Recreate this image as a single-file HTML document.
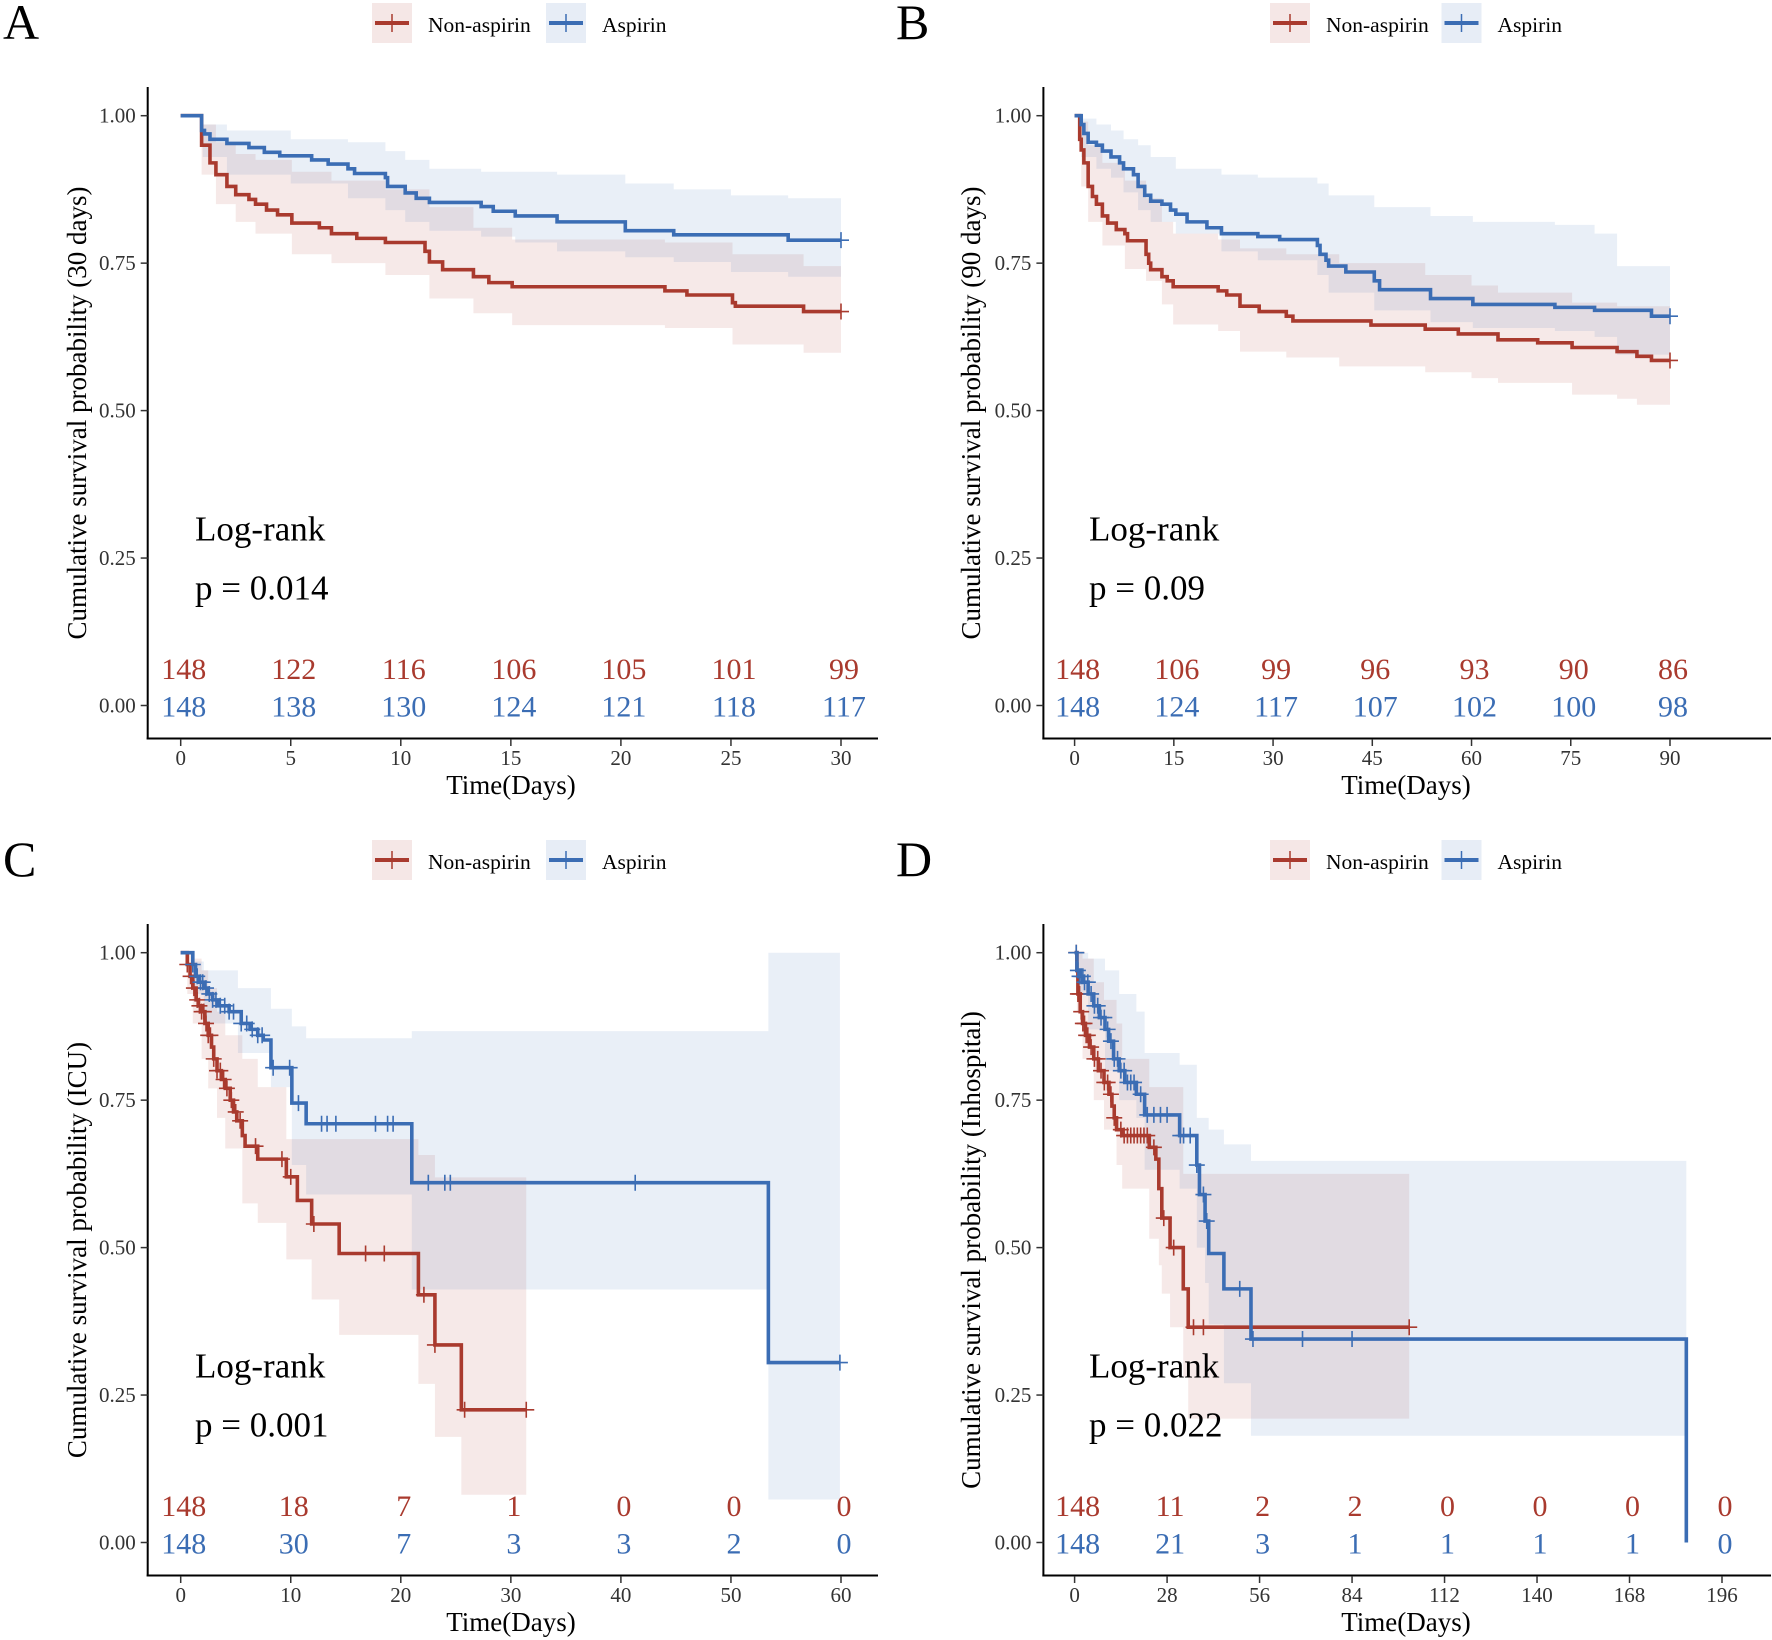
<!DOCTYPE html>
<html><head><meta charset="utf-8">
<style>
html,body{margin:0;padding:0;background:#fff;}
svg{display:block;font-family:"Liberation Serif","Times New Roman",serif;}
</style></head>
<body>
<svg id="fig" width="1772" height="1640" viewBox="0 0 1772 1640" xmlns="http://www.w3.org/2000/svg"></svg>
<script>
// ---------- Panel A (30 days) ----------
const aRedT=[0.95,1.33,1.6,2.1,2.5,3.1,3.4,3.9,4.4,5.05,6.3,6.85,8.0,9.3,11.1,11.3,11.9,13.3,14.0,15.06,22.0,23.0,25.07,25.2,28.3];
const aRedS=[0.95,0.92,0.90,0.88,0.866,0.858,0.85,0.84,0.832,0.818,0.81,0.80,0.792,0.785,0.77,0.752,0.739,0.727,0.717,0.71,0.703,0.696,0.683,0.677,0.668];
const aRedBandT=[0,0.95,1.6,2.5,3.4,5.05,6.85,9.3,11.3,13.3,15.06,22,25.07,28.3];
const aRedHi=[1,0.985,0.955,0.935,0.925,0.905,0.89,0.875,0.845,0.81,0.79,0.785,0.765,0.745];
const aRedLo=[1,0.9,0.85,0.82,0.80,0.765,0.75,0.73,0.69,0.665,0.645,0.64,0.612,0.598];
const aBlueT=[0.95,1.08,1.33,2.1,3.1,3.8,4.5,5.95,6.7,7.6,7.9,9.3,9.4,10.2,10.7,11.3,13.65,14.2,15.2,17.1,20.2,22.4,27.6];
const aBlueS=[0.975,0.969,0.96,0.953,0.946,0.938,0.932,0.925,0.918,0.91,0.902,0.895,0.88,0.869,0.86,0.853,0.846,0.838,0.83,0.82,0.805,0.798,0.789];
const aBlueBandT=[0,1.0,2.1,5.0,7.6,9.3,10.2,11.3,13.65,15.2,17.1,20.2,22.4,25.0,27.6];
const aBlueHi=[1,0.985,0.975,0.96,0.955,0.94,0.925,0.91,0.905,0.905,0.9,0.885,0.875,0.865,0.86];
const aBlueLo=[1,0.93,0.9,0.885,0.86,0.84,0.82,0.805,0.795,0.785,0.77,0.76,0.752,0.735,0.727];
const aRedCens=[30];
const aBlueCens=[30];
const aRiskRed=["148","122","116","106","105","101","99"];
const aRiskBlue=["148","138","130","124","121","118","117"];
const aXTicks=[0,5,10,15,20,25,30];

// ---------- Panel B (90 days) ----------
const bRedT=[0.77,1.0,1.4,2.05,2.7,3.3,4.2,5.0,6.3,7.6,8.0,10.8,11.2,11.5,13.2,14.0,14.9,21.7,23.0,25.0,27.9,32,33,44.8,53,58,64,70,75.2,82,85,87.2];
const bRedS=[0.96,0.942,0.92,0.88,0.863,0.85,0.83,0.818,0.807,0.80,0.788,0.765,0.75,0.739,0.727,0.72,0.71,0.703,0.696,0.677,0.668,0.66,0.652,0.645,0.638,0.63,0.62,0.615,0.607,0.60,0.592,0.585];
const bRedBandT=[0,1.0,2.05,4.2,7.6,10.8,13.2,14.9,21.7,25,32,40,53,60,64,75.2,82,85];
const bRedHi=[1,0.99,0.95,0.92,0.89,0.86,0.82,0.8,0.79,0.775,0.765,0.75,0.73,0.712,0.70,0.683,0.677,0.677];
const bRedLo=[1,0.88,0.82,0.78,0.74,0.72,0.68,0.646,0.635,0.60,0.59,0.575,0.565,0.555,0.547,0.527,0.52,0.51];
const bBlueT=[1.0,1.4,2.05,3.3,4.2,5.5,6.8,7.4,8.9,9.6,10.6,11.5,13.2,14.5,15.3,17.0,20.0,22.2,27.7,31.0,36.7,37.1,38.0,38.4,41.0,45.3,46.1,53.8,60.2,72.6,78.6,87.2];
const bBlueS=[0.985,0.97,0.955,0.95,0.94,0.93,0.92,0.91,0.90,0.88,0.865,0.855,0.85,0.84,0.833,0.82,0.81,0.80,0.795,0.79,0.78,0.765,0.755,0.745,0.735,0.72,0.705,0.69,0.68,0.675,0.67,0.66];
const bBlueBandT=[0,1.0,3.3,5.5,7.4,9.6,11.5,15.3,22.2,27.7,36.7,38.4,45.3,53.8,60.2,72.6,78.6,82];
const bBlueHi=[1,0.995,0.985,0.975,0.96,0.95,0.93,0.91,0.9,0.895,0.885,0.865,0.845,0.83,0.82,0.815,0.80,0.745];
const bBlueLo=[1,0.93,0.91,0.895,0.87,0.84,0.82,0.80,0.77,0.755,0.73,0.70,0.67,0.65,0.64,0.635,0.625,0.595];
const bRedCens=[90];
const bBlueCens=[90];
const bRiskRed=["148","106","99","96","93","90","86"];
const bRiskBlue=["148","124","117","107","102","100","98"];
const bXTicks=[0,15,30,45,60,75,90];

// ---------- Panel C (ICU) ----------
const cRedT=[0.6,0.85,1.1,1.4,1.6,1.9,2.2,2.5,2.8,3.0,3.3,3.7,4.05,4.5,4.8,5.1,5.6,5.85,7.0,9.6,10.6,11.9,14.4,21.6,23.1,25.5];
const cRedS=[0.98,0.96,0.94,0.92,0.91,0.90,0.88,0.86,0.84,0.82,0.80,0.785,0.77,0.75,0.73,0.715,0.69,0.672,0.65,0.62,0.58,0.54,0.49,0.42,0.335,0.225];
const cRedBandT=[0,0.6,1.1,1.9,2.5,3.3,4.05,5.6,7.0,9.6,11.9,14.4,21.6,23.1,25.5];
const cRedHi=[1,1,0.99,0.97,0.94,0.9,0.86,0.82,0.772,0.684,0.684,0.684,0.657,0.619,0.619];
const cRedLo=[1,0.93,0.88,0.82,0.77,0.72,0.668,0.575,0.542,0.48,0.412,0.352,0.269,0.179,0.081];
const cBlueT=[1.1,1.35,1.6,2.1,2.4,2.9,3.4,4.4,5.5,6.3,7.0,7.5,8.2,10.1,11.4,21.0,53.4];
const cBlueS=[0.98,0.96,0.95,0.94,0.93,0.92,0.91,0.90,0.88,0.87,0.86,0.852,0.805,0.745,0.71,0.61,0.305];
const cBlueBandT=[0,1.1,2.1,5.2,8.2,10.1,11.4,21.0,53.4];
const cBlueHi=[1,0.985,0.97,0.94,0.905,0.875,0.855,0.867,1.0];
const cBlueLo=[1,0.93,0.88,0.83,0.772,0.64,0.59,0.429,0.073];
const cRedCens=[0.6,0.9,1.2,1.5,1.7,1.9,2.1,2.3,2.5,2.7,3.0,3.3,3.6,3.9,4.2,4.6,5.0,5.4,6.8,9.2,10.0,12.1,16.8,18.5,22.1,23.1,25.8,31.4];
const cBlueCens=[1.1,1.5,1.8,2.0,2.3,2.6,2.9,3.2,3.6,4.0,4.4,4.8,5.5,6.0,6.5,7.0,7.4,8.4,9.9,10.7,12.8,13.3,14.1,17.7,18.8,19.3,22.5,24.0,24.5,41.3,59.9];
const cRiskRed=["148","18","7","1","0","0","0"];
const cRiskBlue=["148","30","7","3","3","2","0"];
const cXTicks=[0,10,20,30,40,50,60];

// ---------- Panel D (In-hospital) ----------
const dRedT=[0.7,1.0,1.7,2.4,3.3,4.5,5.8,7.2,8.9,10.4,11.3,12.0,12.7,14.4,22.6,24.6,25.5,26.4,28.9,32.9,34.4];
const dRedS=[0.97,0.93,0.90,0.88,0.86,0.84,0.82,0.80,0.78,0.76,0.74,0.72,0.70,0.69,0.67,0.65,0.60,0.55,0.50,0.43,0.365];
const dRedBandT=[0,0.7,2.4,5.8,8.9,12.7,14.4,22.6,25.5,26.4,28.9,32.9,34.4];
const dRedHi=[1,1,0.99,0.95,0.92,0.88,0.82,0.772,0.772,0.772,0.772,0.625,0.625];
const dRedLo=[1,0.9,0.82,0.75,0.7,0.64,0.60,0.515,0.47,0.422,0.365,0.28,0.21];
const dBlueT=[0.7,1.5,2.7,4.1,5.8,7.5,9.2,10.3,11.8,13.5,15.2,18.7,21.2,31.8,37.0,37.8,39.5,40.6,45.2,53.4,185.2];
const dBlueS=[0.97,0.96,0.95,0.93,0.91,0.89,0.87,0.85,0.82,0.80,0.78,0.76,0.725,0.69,0.64,0.59,0.545,0.49,0.43,0.345,0.0];
const dBlueBandT=[0,0.7,4.1,9.2,13.5,18.7,21.2,31.8,37.0,39.5,40.6,45.2,53.4];
const dBlueHi=[1,1,0.99,0.97,0.93,0.90,0.83,0.81,0.72,0.72,0.70,0.675,0.647];
const dBlueLo=[1,0.93,0.87,0.8,0.75,0.72,0.632,0.60,0.50,0.44,0.37,0.27,0.181];
const dRedCens=[0.5,1,1.5,2,2.5,3,3.5,4,5,6,7,8,9,10,11,12,14,15,16,17,18,19,20,21,22,24,27,30,36,39,101.3];
const dBlueCens=[0.5,1,1.5,2,2.5,3,4,5,6,7,8,9,10,11,12,13,14,15,16,17,18,20,22,24,26,28,32,33,35,37,39,40,50,54,69,84];
const dRiskRed=["148","11","2","2","0","0","0","0"];
const dRiskBlue=["148","21","3","1","1","1","1","0"];
const dXTicks=[0,28,56,84,112,140,168,196];

const yTicks=[0,0.25,0.5,0.75,1];
const yTickLabels=["0.00","0.25","0.50","0.75","1.00"];

const RED="#A93A2E", BLUE="#3B6DB4";
const NS="http://www.w3.org/2000/svg";
const svg=document.getElementById('fig');
function mk(tag,attrs,parent){const e=document.createElementNS(NS,tag);for(const k in attrs)e.setAttribute(k,attrs[k]);(parent||svg).appendChild(e);return e;}
function txt(s,attrs,parent){const e=mk('text',attrs,parent);e.textContent=s;return e;}

function survAt(T,S,t){let v=1;for(let i=0;i<T.length;i++){if(T[i]<=t)v=S[i];}return v;}

const Y0PX=705.5, Y1PX=115.7;

function panel(cfg){
  const g=mk('g',{});
  
  
  const ox=cfg.ox, oy=cfg.oy;
  const X=v=>ox+cfg.x0+(cfg.xRef-cfg.x0)*v/cfg.xRefVal;
  const Y=v=>oy+Y0PX-(Y0PX-Y1PX)*v;
  const L=txt(cfg.letter,{x:ox+cfg.letterX,y:oy+39,'font-size':50,fill:'#000'},g);
  
  
  const legs=[[cfg.legX[0],RED,'rgba(169,58,46,0.12)','Non-aspirin'],[cfg.legX[1],BLUE,'rgba(59,109,180,0.12)','Aspirin']];
  legs.forEach(l=>{
    const lg=mk('g',{},g);
    
    
    mk('rect',{x:ox+l[0],y:oy+3,width:40,height:40,fill:l[2]},lg);
    mk('line',{x1:ox+l[0]+3,x2:ox+l[0]+37,y1:oy+23,y2:oy+23,stroke:l[1],'stroke-width':4},lg);
    mk('line',{x1:ox+l[0]+20,x2:ox+l[0]+20,y1:oy+14,y2:oy+32,stroke:l[1],'stroke-width':1.5},lg);
    txt(l[3],{x:ox+l[0]+56,y:oy+32,'font-size':21.5,fill:'#000'},lg);
  });
  function band(T,Lo,Hi,end,fill,nm){
    let up='',lo=[];
    for(let i=0;i<T.length;i++){const t1=(i+1<T.length)?T[i+1]:end;
      up+=(i===0?'M':'L')+X(T[i])+','+Y(Hi[i])+' L'+X(t1)+','+Y(Hi[i])+' ';
      lo.unshift('L'+X(t1)+','+Y(Lo[i])+' L'+X(T[i])+','+Y(Lo[i]));}
    const p=mk('path',{d:up+lo.join(' ')+' Z',fill:fill},g);
    
    
  }
  band(cfg.redBandT,cfg.redLo,cfg.redHi,cfg.redEnd,'rgba(169,58,46,0.11)','ci-band-non-aspirin');
  band(cfg.blueBandT,cfg.blueLo,cfg.blueHi,cfg.blueEnd,'rgba(59,109,180,0.11)','ci-band-aspirin');
  function curve(T,S,end,col,nm){
    let d='M'+X(0)+','+Y(1);let cur=1;
    for(let i=0;i<T.length;i++){d+=' L'+X(T[i])+','+Y(cur)+' L'+X(T[i])+','+Y(S[i]);cur=S[i];}
    d+=' L'+X(end)+','+Y(cur);
    const p=mk('path',{d:d,fill:'none',stroke:col,'stroke-width':3.6},g);
    
    
  }
  curve(cfg.redT,cfg.redS,cfg.redEnd,RED,'survival-curve-non-aspirin');
  curve(cfg.blueT,cfg.blueS,cfg.blueEnd,BLUE,'survival-curve-aspirin');
  function cens(C,T,S,col,nm){
    C.forEach(t=>{const v=survAt(T,S,t);const cx=X(t),cy=Y(v);
      const p=mk('path',{d:`M${cx-8},${cy} L${cx+8},${cy} M${cx},${cy-8} L${cx},${cy+8}`,stroke:col,'stroke-width':1.6,fill:'none'},g);
      
      });
  }
  cens(cfg.redCens,cfg.redT,cfg.redS,RED,'censor-mark-non-aspirin');
  cens(cfg.blueCens,cfg.blueT,cfg.blueS,BLUE,'censor-mark-aspirin');
  const ax=ox+cfg.axisX;
  const yAx=mk('line',{x1:ax,x2:ax,y1:oy+87,y2:oy+739.5,stroke:'#000','stroke-width':2},g);
  
  
  const xAx=mk('line',{x1:ax-1,x2:ox+cfg.axisRight,y1:oy+738.5,y2:oy+738.5,stroke:'#000','stroke-width':2},g);
  
  
  yTicks.forEach((v,i)=>{
    mk('line',{x1:ax-7,x2:ax,y1:Y(v),y2:Y(v),stroke:'#333','stroke-width':1.5},g);
    const t=txt(yTickLabels[i],{x:ax-12,y:Y(v)+7,'font-size':21,'text-anchor':'end',fill:'#333'},g);
    
    
  });
  cfg.xTicks.forEach(v=>{
    mk('line',{x1:X(v),x2:X(v),y1:oy+739,y2:oy+746,stroke:'#333','stroke-width':1.5},g);
    const t=txt(String(v),{x:X(v),y:oy+765,'font-size':21,'text-anchor':'middle',fill:'#333'},g);
    
    
  });
  const xt=txt('Time(Days)',{x:ox+cfg.xTitleX,y:oy+794,'font-size':27,'text-anchor':'middle',fill:'#000'},g);
  
  
  const ytx=ox+cfg.yTitleX, yty=oy+413;
  const yt=txt(cfg.yTitle,{x:ytx,y:yty,'font-size':27,'text-anchor':'middle',fill:'#000',transform:`rotate(-90 ${ytx} ${yty})`,dy:9},g);
  
  
  const lr=txt('Log-rank',{x:ox+cfg.lrX,y:oy+540.5,'font-size':35,fill:'#000'},g);
  
  
  const pv=txt(cfg.p,{x:ox+cfg.lrX,y:oy+599.5,'font-size':35,fill:'#000'},g);
  
  
  cfg.xTicks.forEach((v,i)=>{
    const r=txt(cfg.riskRed[i],{x:X(v)+3,y:oy+679,'font-size':30,'text-anchor':'middle',fill:RED},g);
    
    
    const b=txt(cfg.riskBlue[i],{x:X(v)+3,y:oy+716.5,'font-size':30,'text-anchor':'middle',fill:BLUE},g);
    
    
  });
}

const leftGeom={axisX:147.7,x0:180.7,xRef:841,axisRight:878,letterX:3,legX:[372,546],yTitleX:77,lrX:195,xTitleX:511};
const rightGeom={axisX:157.4,x0:188.6,axisRight:885,letterX:10,legX:[384,555.5],yTitleX:85,lrX:203,xTitleX:520};

panel(Object.assign({},leftGeom,{name:'panel-a-30-days',letter:'A',ox:0,oy:0,xRefVal:30,xTicks:aXTicks,
  redT:aRedT,redS:aRedS,redEnd:30,redBandT:aRedBandT,redHi:aRedHi,redLo:aRedLo,
  blueT:aBlueT,blueS:aBlueS,blueEnd:30,blueBandT:aBlueBandT,blueHi:aBlueHi,blueLo:aBlueLo,
  redCens:aRedCens,blueCens:aBlueCens,riskRed:aRiskRed,riskBlue:aRiskBlue,
  yTitle:'Cumulative survival probability (30 days)',p:'p = 0.014'}));
panel(Object.assign({},rightGeom,{name:'panel-b-90-days',letter:'B',ox:886,oy:0,xRef:784,xRefVal:90,xTicks:bXTicks,
  redT:bRedT,redS:bRedS,redEnd:90,redBandT:bRedBandT,redHi:bRedHi,redLo:bRedLo,
  blueT:bBlueT,blueS:bBlueS,blueEnd:90,blueBandT:bBlueBandT,blueHi:bBlueHi,blueLo:bBlueLo,
  redCens:bRedCens,blueCens:bBlueCens,riskRed:bRiskRed,riskBlue:bRiskBlue,
  yTitle:'Cumulative survival probability (90 days)',p:'p = 0.09'}));
panel(Object.assign({},leftGeom,{name:'panel-c-icu',letter:'C',ox:0,oy:837,xRefVal:60,xTicks:cXTicks,
  redT:cRedT,redS:cRedS,redEnd:31.4,redBandT:cRedBandT,redHi:cRedHi,redLo:cRedLo,
  blueT:cBlueT,blueS:cBlueS,blueEnd:59.9,blueBandT:cBlueBandT,blueHi:cBlueHi,blueLo:cBlueLo,
  redCens:cRedCens,blueCens:cBlueCens,riskRed:cRiskRed,riskBlue:cRiskBlue,
  yTitle:'Cumulative survival probability (ICU)',p:'p = 0.001'}));
panel(Object.assign({},rightGeom,{name:'panel-d-inhospital',letter:'D',ox:886,oy:837,xRef:836,xRefVal:196,xTicks:dXTicks,
  redT:dRedT,redS:dRedS,redEnd:101.3,redBandT:dRedBandT,redHi:dRedHi,redLo:dRedLo,
  blueT:dBlueT,blueS:dBlueS,blueEnd:185.2,blueBandT:dBlueBandT,blueHi:dBlueHi,blueLo:dBlueLo,
  redCens:dRedCens,blueCens:dBlueCens,riskRed:dRiskRed,riskBlue:dRiskBlue,
  yTitle:'Cumulative survival probability (Inhospital)',p:'p = 0.022'}));
</script>
</body></html>
